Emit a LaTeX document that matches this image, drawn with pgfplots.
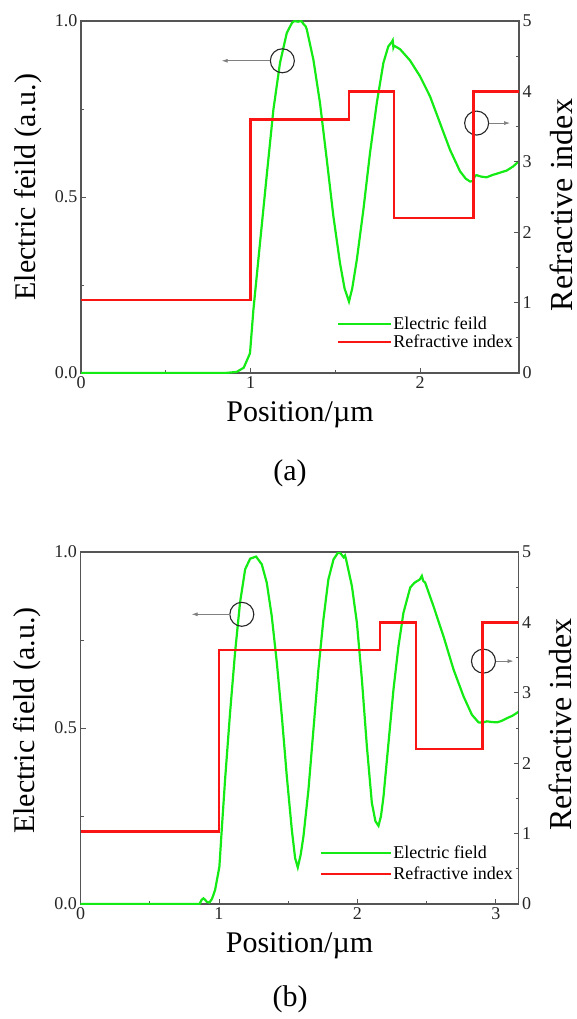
\documentclass[border=0pt]{standalone}
\usepackage{fontspec}
\setmainfont{Liberation Serif}
\usepackage{pgfplots}
\pgfplotsset{compat=1.18}
\usetikzlibrary{arrows.meta}
\definecolor{axgray}{RGB}{85,85,85}
\definecolor{fgreen}{RGB}{20,235,20}
\definecolor{fred}{RGB}{250,20,20}
\pgfplotsset{
  panel/.style={scale only axis, width=438pt, height=352pt, anchor=south west,
    axis line style={axgray, line width=1.1pt}, tick style={axgray, line width=0.9pt},
    tick align=inside, major tick length=5pt, minor tick length=3pt,
    tick label style={font=\fontsize{18}{20}\selectfont, black!85},
    /pgf/number format/assume math mode=true,
    label style={font=\fontsize{30}{34}\selectfont},
  },
}
\begin{document}
\begin{tikzpicture}
\useasboundingbox (0pt,0pt) rectangle (577pt,-1019pt);
% ---------------- panel (a) ----------------
\begin{axis}[panel, at={(81pt,-373pt)}, xmin=0, xmax=2.584, ymin=0, ymax=1,
  xtick={0,1,2}, minor x tick num=1, ytick={0,0.5,1}, minor y tick num=1,
  yticklabel style={/pgf/number format/.cd, fixed, fixed zerofill, precision=1},
  xtick pos=left, ytick pos=left,
  xlabel={Position/µm}, ylabel={Electric feild (a.u.)},
  xlabel style={at={(axis description cs:0.5,-0.12)}, anchor=center},
  ylabel style={at={(axis description cs:-0.121,0.528)}, anchor=center}]
\addplot[fgreen, line width=2.2pt] coordinates {
(0,0) (0.5,0) (0.85,0) (0.918,0.003) (0.96,0.015) (0.997,0.056) (1.017,0.179)
(1.056,0.369) (1.095,0.558) (1.135,0.748) (1.174,0.881) (1.214,0.966) (1.245,0.995)
(1.26,1.0) (1.28,0.998) (1.30,1.0) (1.315,0.99) (1.325,0.985) (1.332,0.976)
(1.371,0.890) (1.41,0.767) (1.45,0.606) (1.489,0.445) (1.528,0.312) (1.555,0.24)
(1.581,0.203) (1.60,0.24) (1.627,0.321) (1.666,0.464) (1.705,0.625) (1.745,0.767)
(1.784,0.881) (1.813,0.928) (1.833,0.940) (1.839,0.945) (1.843,0.925) (1.847,0.93)
(1.882,0.920) (1.941,0.888) (2.0,0.843) (2.059,0.786) (2.118,0.710) (2.177,0.634)
(2.236,0.573) (2.27,0.552) (2.295,0.544) (2.31,0.545) (2.318,0.552) (2.324,0.56)
(2.334,0.562) (2.36,0.558) (2.393,0.556) (2.43,0.563) (2.452,0.566) (2.49,0.572)
(2.511,0.575) (2.55,0.587) (2.584,0.602)};
\draw[black!85, line width=1.1pt] (axis cs:1.188,0.887) circle[radius=12pt];
\draw[gray, line width=0.7pt, -{Latex[length=6pt,width=4pt]}] (axis cs:1.117,0.887) -- (axis cs:0.83,0.887);
\draw[black!85, line width=1.1pt] (axis cs:2.334,0.710) circle[radius=12pt];
\draw[gray, line width=0.7pt, -{Latex[length=6pt,width=4pt]}] (axis cs:2.405,0.710) -- (axis cs:2.531,0.710);
\end{axis}
\begin{axis}[panel, at={(81pt,-373pt)}, xmin=0, xmax=2.584, ymin=0, ymax=5,
  axis x line=none, axis y line*=right, ytick={0,1,2,3,4,5}, minor y tick num=1,
  ylabel={Refractive index},
  ylabel style={at={(axis description cs:1.121,0.477)}, anchor=base, font=\fontsize{32}{34}\selectfont},
  legend style={draw=none, fill=none, at={(axis description cs:0.5845,0.163)}, anchor=north west,
    font=\fontsize{18}{20}\selectfont, row sep=2pt, column sep=0pt, inner sep=0pt, nodes={inner sep=1pt}},
  legend cell align=left,
  legend image code/.code={\draw[#1] (0pt,0pt) -- (53pt,0pt);}]
\addlegendimage{fgreen, line width=2.2pt}
\addlegendentry{Electric feild}
\addplot[fred, line width=2.2pt] coordinates {
(0,1.04) (1,1.04) (1,3.6) (1.582,3.6) (1.582,4.0) (1.846,4.0) (1.846,2.2)
(2.316,2.2) (2.316,4.0) (2.584,4.0)};
\addlegendentry{Refractive index}
\end{axis}
\node[font=\fontsize{30}{34}\selectfont] at (290pt,-473pt) {(a)};
% ---------------- panel (b) ----------------
\begin{axis}[panel, at={(80.5pt,-904pt)}, xmin=0, xmax=3.163, ymin=0, ymax=1,
  xtick={0,1,2,3}, minor x tick num=1, ytick={0,0.5,1}, minor y tick num=1,
  yticklabel style={/pgf/number format/.cd, fixed, fixed zerofill, precision=1},
  xtick pos=left, ytick pos=left,
  xlabel={Position/µm}, ylabel={Electric field (a.u.)},
  xlabel style={at={(axis description cs:0.5,-0.12)}, anchor=center},
  ylabel style={at={(axis description cs:-0.121,0.521)}, anchor=center}]
\addplot[fgreen, line width=2.2pt] coordinates {
(0,0) (0.5,0) (0.86,0) (0.875,0.012) (0.888,0.016) (0.9,0.012) (0.912,0.006)
(0.931,0.004) (0.95,0.015) (0.972,0.04) (1.003,0.106) (1.02,0.211) (1.044,0.353)
(1.08,0.543) (1.116,0.714) (1.152,0.856) (1.189,0.951) (1.225,0.981) (1.268,0.987)
(1.309,0.965) (1.345,0.913) (1.381,0.818) (1.418,0.685) (1.454,0.533) (1.49,0.362)
(1.526,0.211) (1.55,0.13) (1.569,0.104) (1.59,0.14) (1.61,0.192) (1.646,0.324)
(1.682,0.495) (1.718,0.666) (1.754,0.808) (1.79,0.922) (1.827,0.979) (1.863,1.0)
(1.88,0.995) (1.9,0.985) (1.91,0.99) (1.918,0.979) (1.96,0.903) (1.996,0.799)
(2.032,0.638) (2.068,0.448) (2.104,0.287) (2.13,0.235) (2.152,0.222) (2.17,0.25)
(2.188,0.305) (2.224,0.457) (2.26,0.609) (2.296,0.732) (2.332,0.827) (2.381,0.899)
(2.41,0.912) (2.429,0.917) (2.45,0.922) (2.465,0.932) (2.475,0.918) (2.489,0.913)
(2.549,0.846) (2.621,0.761) (2.694,0.666) (2.766,0.590) (2.826,0.538) (2.874,0.516)
(2.9,0.515) (2.935,0.519) (2.97,0.517) (3.007,0.516) (3.04,0.52) (3.08,0.528)
(3.12,0.535) (3.163,0.546)};
\draw[black!85, line width=1.1pt] (axis cs:1.165,0.823) circle[radius=12pt];
\draw[gray, line width=0.7pt, -{Latex[length=6pt,width=4pt]}] (axis cs:1.078,0.823) -- (axis cs:0.803,0.823);
\draw[black!85, line width=1.1pt] (axis cs:2.91,0.690) circle[radius=12pt];
\draw[gray, line width=0.7pt, -{Latex[length=6pt,width=4pt]}] (axis cs:2.997,0.690) -- (axis cs:3.127,0.690);
\end{axis}
\begin{axis}[panel, at={(80.5pt,-904pt)}, xmin=0, xmax=3.163, ymin=0, ymax=5,
  axis x line=none, axis y line*=right, ytick={0,1,2,3,4,5}, minor y tick num=1,
  ylabel={Refractive index},
  ylabel style={at={(axis description cs:1.121,0.51)}, anchor=base, font=\fontsize{32}{34}\selectfont},
  legend style={draw=none, fill=none, at={(axis description cs:0.547,0.168)}, anchor=north west,
    font=\fontsize{18}{20}\selectfont, row sep=5pt, column sep=0pt, inner sep=0pt, nodes={inner sep=1pt}},
  legend cell align=left,
  legend image code/.code={\draw[#1] (0pt,0pt) -- (58pt,0pt);\path (58pt,0pt) -- (70pt,0pt);}]
\addlegendimage{fgreen, line width=2.2pt}
\addlegendentry{Electric field}
\addplot[fred, line width=2.2pt] coordinates {
(0,1.03) (1,1.03) (1,3.605) (2.164,3.605) (2.164,4.0) (2.422,4.0) (2.422,2.206)
(2.903,2.206) (2.903,4.0) (3.163,4.0)};
\addlegendentry{Refractive index}
\end{axis}
\node[font=\fontsize{30}{34}\selectfont] at (290pt,-999pt) {(b)};
\end{tikzpicture}
\end{document}
